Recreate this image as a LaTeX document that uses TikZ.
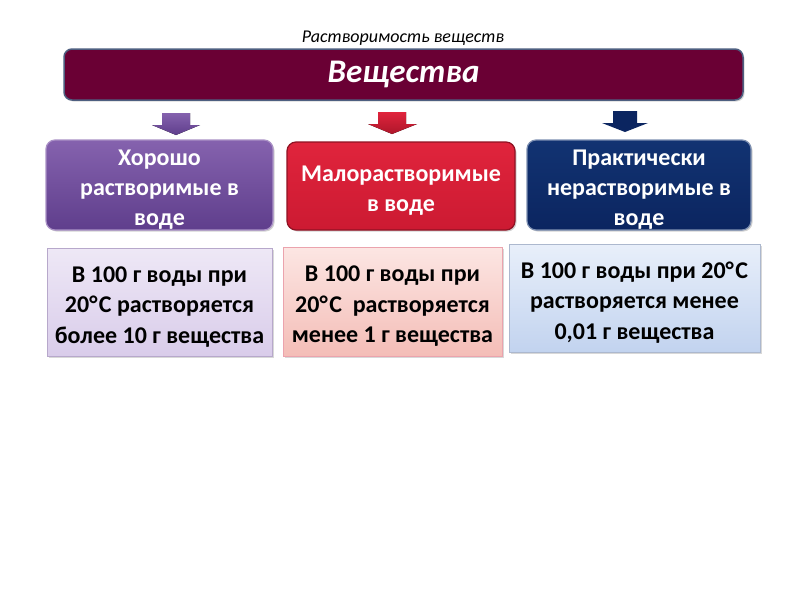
\documentclass[tikz,border=0pt]{standalone}
\usepackage{fontspec}
\setmainfont{Carlito}
\usetikzlibrary{shadows}
\definecolor{banner}{HTML}{6A0034}
\definecolor{bannerline}{HTML}{4E5F80}
\definecolor{purA}{HTML}{8562AE}
\definecolor{purB}{HTML}{5F3E8C}
\definecolor{redA}{HTML}{E0243C}
\definecolor{redB}{HTML}{CC1A32}
\definecolor{navA}{HTML}{123372}
\definecolor{navB}{HTML}{0B2560}
\definecolor{lavA}{HTML}{EEE8F6}
\definecolor{lavB}{HTML}{D9CCEA}
\definecolor{pinA}{HTML}{FCE6E3}
\definecolor{pinB}{HTML}{F4BDB7}
\definecolor{bluA}{HTML}{E8EFFA}
\definecolor{bluB}{HTML}{C2D3EF}
\newcommand{\degC}{°\kern1.5pt С}
\newcommand{\dn}{\rule{0pt}{25pt}}
\tikzset{
  catbox/.style={rounded corners=9pt, draw=#1, line width=1.2pt, align=center, text=white,
    font=\fontsize{24}{30}\selectfont\bfseries, inner sep=0pt,
    drop shadow={shadow xshift=1.5pt,shadow yshift=-1.5pt,opacity=0.35}},
  infobox/.style={draw=#1, line width=0.8pt, align=center, text=black,
    font=\fontsize{24}{30.5}\selectfont\bfseries, inner sep=0pt,
    drop shadow={shadow xshift=1.5pt,shadow yshift=-1.5pt,opacity=0.3}}
}
\begin{document}
\begin{tikzpicture}[x=1pt,y=-1pt]
\useasboundingbox (0,0) rectangle (800,600);
\fill[white] (0,0) rectangle (800,600);

\node[font=\fontsize{18}{20}\selectfont\itshape] (title) at (403,38) {Растворимость веществ};

\node[rounded corners=8pt, draw=bannerline, line width=1.5pt, fill=banner,
      minimum width=679pt, minimum height=51pt, text=white,
      font=\fontsize{33}{36}\selectfont\bfseries\itshape,
      drop shadow={shadow xshift=1.5pt,shadow yshift=-1.5pt,opacity=0.3}] (ban) at (403.5,74.5) {Вещества};

% block arrows
\fill[top color=purA, bottom color=purB] (162,113) -- (190,113) -- (190,125) -- (200,125) -- (176,135) -- (152,125) -- (162,125) -- cycle;
\fill[top color=redA, bottom color=redB!85!black] (378,112) -- (406,112) -- (406,124) -- (417,124) -- (392,134) -- (368,124) -- (378,124) -- cycle;
\fill[navB] (613,111) -- (637,111) -- (637,123) -- (648,123) -- (625,132) -- (602,123) -- (613,123) -- cycle;

% category boxes
\node[catbox=purA!70!white, top color=purA, bottom color=purB,
      minimum width=227pt, minimum height=90pt] (b1) at (159.5,185)
      {\dn Хорошо\\растворимые в\\воде};
\node[catbox=redB!70!black, top color=redA, bottom color=redB,
      minimum width=228pt, minimum height=88pt] (b2) at (401,186)
      {\dn Малорастворимые\\в воде};
\node[catbox=navA!55!white, top color=navA, bottom color=navB,
      minimum width=224pt, minimum height=90pt] (b3) at (639,185)
      {\dn Практически\\нерастворимые в\\воде};

% info boxes
\node[infobox=purB!45!white, top color=lavA, bottom color=lavB,
      minimum width=225pt, minimum height=108pt] (i1) at (159.5,302)
      {\dn В 100 г воды при\\20\degC{} растворяется\\более 10 г вещества};
\node[infobox=redB!40!white, top color=pinA, bottom color=pinB,
      minimum width=219pt, minimum height=109pt] (i2) at (392.5,301.5)
      {\dn В 100 г воды при\\20\degC\ \ растворяется\\менее 1 г вещества};
\node[infobox=navA!35!white, top color=bluA, bottom color=bluB,
      minimum width=251pt, minimum height=108pt] (i3) at (634.5,298)
      {\dn В 100 г воды при 20\degC\\растворяется менее\\0,01 г вещества};
\end{tikzpicture}
\end{document}
